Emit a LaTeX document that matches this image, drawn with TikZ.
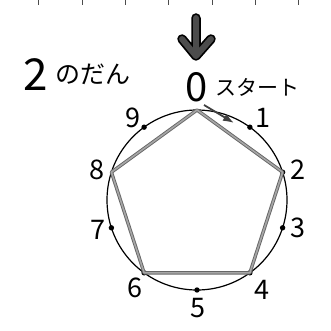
\documentclass[tikz,border=0pt]{standalone}
\usepackage{fontspec}
\setmainfont{Noto Sans CJK JP}
\usetikzlibrary{arrows.meta,calc}
\begin{document}
\begin{tikzpicture}[x=1pt,y=-1pt,
  numlbl/.style={inner sep=0pt, font=\fontsize{27}{27}\selectfont},
  biglbl/.style={inner sep=0pt, font=\fontsize{40}{40}\selectfont},
  kana/.style={inner sep=0pt, font=\fontsize{21}{21}\selectfont},
  tickmark/.style={draw=black!70, line width=0.8},
  ring/.style={draw=black, line width=1.2},
  dotmark/.style={fill=black},
  pentout/.style={draw=black!60, line width=3.4, line join=round},
  pentin/.style={draw=black!35, line width=1.6, line join=round},
  arrowout/.style={draw=black, line width=9.5, line cap=round, line join=round},
  arrowin/.style={draw=black!70, line width=6, line cap=round, line join=round},
  smallarrow/.style={draw=black!75, line width=1.8, -{Latex[length=11pt,width=8pt]}}
]
\useasboundingbox (0,0) rectangle (331,331);
% ruler ticks along the top edge
\foreach \x in {38,82,125,168,212,255,298} \draw[tickmark] (\x,0) -- (\x,5);
% the big down arrow
\coordinate (atop) at (196,18);
\coordinate (atip) at (196,56);
\coordinate (awl) at (182,39);
\coordinate (awr) at (211,39);
\draw[arrowout] (atop) -- (atip) (awl) -- (atip) -- (awr);
\draw[arrowin] (atop) -- (atip) (awl) -- (atip) -- (awr);
% title
\node[inner sep=0pt, font=\fontsize{44}{44}\selectfont] (two) at (36,75) {2};
\node[inner sep=0pt, font=\fontsize{25}{25}\selectfont, anchor=west] (dan) at (55,74) {のだん};
% circle and points
\coordinate (c) at (197,200);
\draw[ring] (c) circle[radius=90];
\foreach \k in {0,...,9} \coordinate (p\k) at ($(c)+(-90+36*\k:90)$);
\foreach \k in {1,2,3,4,5,6,7,9} \fill[dotmark] (p\k) circle[radius=2.7];
% pentagon
\draw[pentout] (p0) -- (p2) -- (p4) -- (p6) -- (p8) -- cycle;
\draw[pentin] (p0) -- (p2) -- (p4) -- (p6) -- (p8) -- cycle;
% labels
\node[biglbl] (l0) at (197,87) {0};
\node[kana] (start) at (257,87) {スタート};
\node[numlbl] (l1) at (263,118) {1};
\node[numlbl] (l2) at (298,170) {2};
\node[numlbl] (l3) at (298,228) {3};
\node[numlbl] (l4) at (262,290) {4};
\node[numlbl] (l5) at (198,308) {5};
\node[numlbl] (l6) at (135,288) {6};
\node[numlbl] (l7) at (98,230) {7};
\node[numlbl] (l8) at (97,170) {8};
\node[numlbl] (l9) at (133,118) {9};
% small start arrow
\coordinate (sa) at (204,105);
\coordinate (sb) at (234,123);
\draw[smallarrow] (sa) -- (sb);
\end{tikzpicture}
\end{document}
